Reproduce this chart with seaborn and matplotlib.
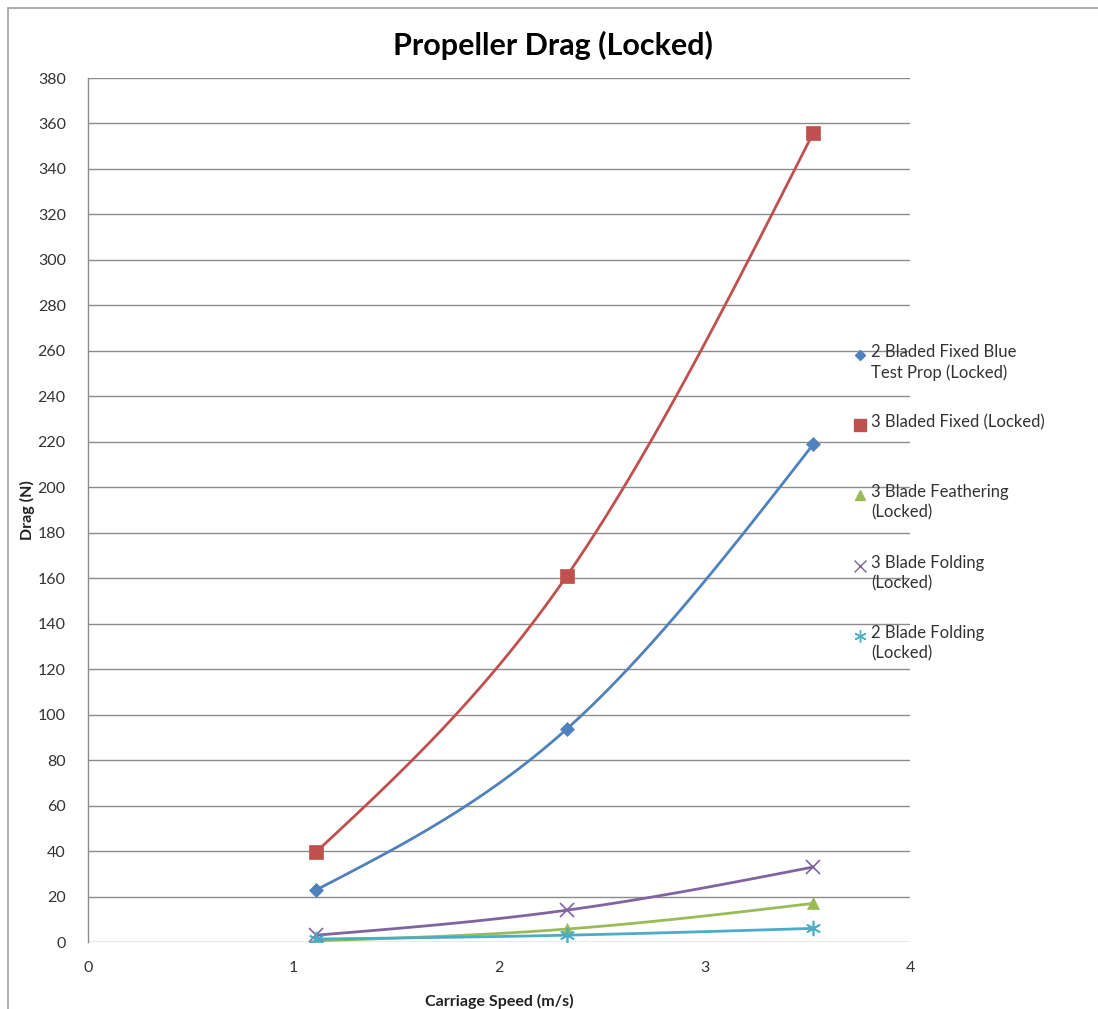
import numpy as np
import pandas as pd
import matplotlib.pyplot as plt
from matplotlib.lines import Line2D
from matplotlib.patches import Rectangle
import seaborn as sns

velocidade = [1.11, 2.33, 3.53]
series_nomes = [
    "2 Bladed Fixed Blue\nTest Prop (Locked)",
    "3 Bladed Fixed (Locked)",
    "3 Blade Feathering\n(Locked)",
    "3 Blade Folding\n(Locked)",
    "2 Blade Folding\n(Locked)",
]
arrasto_2_fixed = [22.9, 93.7, 219.0]
arrasto_3_fixed = [39.6, 161.0, 356.0]
arrasto_3_feather = [0.5, 5.7, 17.0]
arrasto_3_fold = [3.0, 14.0, 33.0]
arrasto_2_fold = [1.3, 3.0, 6.0]

valores = [arrasto_2_fixed, arrasto_3_fixed, arrasto_3_feather,
           arrasto_3_fold, arrasto_2_fold]
cores = ["#4F81BD", "#C0504D", "#9BBB59", "#8064A2", "#4BACC6"]
marcadores = ["D", "s", "^", "x", (6, 2, 0)]
tamanhos = [7, 10, 9, 10, 11]


def suavizar(xs, ys, n=60):
    # curva suavizada (Hermite/Bezier, pontas "naturais")
    p = np.column_stack([xs, ys]).astype(float)
    k = len(p)
    tang = np.zeros_like(p)
    for i in range(1, k - 1):
        tang[i] = (p[i + 1] - p[i - 1]) / 2
    tang[0] = (3 * (p[1] - p[0]) - tang[1]) / 2
    tang[-1] = (3 * (p[-1] - p[-2]) - tang[-2]) / 2
    pts = []
    t = np.linspace(0, 1, n)[:, None]
    for i in range(k - 1):
        p1, p2 = p[i], p[i + 1]
        c1 = p1 + tang[i] / 3
        c2 = p2 - tang[i + 1] / 3
        seg = ((1 - t) ** 3 * p1 + 3 * (1 - t) ** 2 * t * c1
               + 3 * (1 - t) * t ** 2 * c2 + t ** 3 * p2)
        pts.append(seg if i == 0 else seg[1:])
    pts = np.vstack(pts)
    return pts[:, 0], pts[:, 1]


sns.set_style("white")
plt.rcParams["font.family"] = ["Lato", "DejaVu Sans"]

fig = plt.figure(figsize=(10.98, 10.09), dpi=100)
ax = fig.add_axes([88 / 1098, 1 - 942 / 1009, (910 - 88) / 1098, (942 - 78) / 1009])

for nome, ys, cor, mk, ms in zip(series_nomes, valores, cores, marcadores, tamanhos):
    sx, sy = suavizar(velocidade, ys)
    df = pd.DataFrame({"x": sx, "y": sy})
    sns.lineplot(data=df, x="x", y="y", sort=False, color=cor, linewidth=2.0, ax=ax)
    fino = mk == "x" or isinstance(mk, tuple)
    ax.plot(velocidade, ys, linestyle="none", marker=mk, color=cor,
            markersize=ms, markeredgewidth=1.2 if fino else 0.5)

ax.set_xlim(0, 4)
ax.set_ylim(0, 380)
ax.set_xticks(range(0, 5))
ax.set_yticks(range(0, 381, 20))
ax.yaxis.grid(True, color="#8C8C8C", linewidth=1.0)
ax.xaxis.grid(False)
for lado in ["top", "right", "bottom"]:
    ax.spines[lado].set_visible(False)
ax.spines["left"].set_color("#8C8C8C")
ax.spines["left"].set_linewidth(1.0)
ax.tick_params(axis="both", length=0, labelsize=11.5, colors="#333333")
ax.tick_params(axis="x", pad=14)
ax.tick_params(axis="y", pad=16)
ax.set_xlabel("Carriage Speed (m/s)", fontsize=11.5, fontweight="bold", color="#222222", labelpad=13)
ax.set_ylabel("Drag (N)", fontsize=11.5, fontweight="bold", color="#222222", labelpad=2)
fig.suptitle("Propeller Drag (Locked)", x=553 / 1098, y=1 - 45 / 1009, va="center",
             fontsize=22, fontweight="bold", color="black")

# legenda ao lado direito (estilo Excel)
leg_y = [355, 425, 495, 566, 636]
for nome, cor, mk, ms, yy in zip(series_nomes, cores, marcadores, tamanhos, leg_y):
    fig.add_artist(Line2D([860 / 1098], [1 - yy / 1009], transform=fig.transFigure,
                          linestyle="none", marker=mk, color=cor, markersize=ms * 0.8,
                          markeredgewidth=1.0))
    fig.text(871 / 1098, 1 - (yy - 11) / 1009, nome, fontsize=12, color="#333333",
             va="top", ha="left", linespacing=1.3)

fig.add_artist(Rectangle((8 / 1098, -0.05), 1.2, 1 - 8 / 1009 + 0.05,
                         transform=fig.transFigure, fill=False,
                         edgecolor="#A0A0A0", linewidth=1.2))

fig.savefig("out.png", dpi=100)
